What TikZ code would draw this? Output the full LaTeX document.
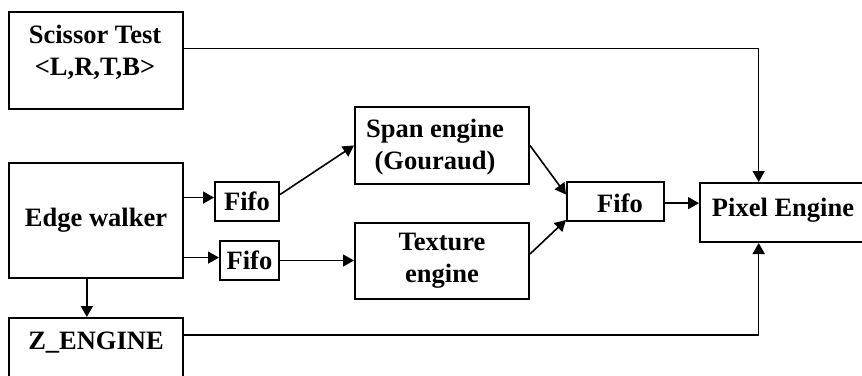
\documentclass[tikz,border=0pt]{standalone}
\usepackage{fontspec}
\setmainfont{Liberation Serif}
\usetikzlibrary{arrows.meta,calc}
\begin{document}
\begin{tikzpicture}[x=1pt,y=-1pt,
  box/.style={draw,line width=2pt,rectangle,inner sep=0pt,align=center},
  lbl/.style={inner sep=0pt,align=center},
  conn/.style={line width=1.6pt},
  arr/.style={conn,-{Triangle[length=11pt,width=12pt]}},
  every node/.style={font=\fontsize{26.5}{32}\selectfont\bfseries}]
\useasboundingbox (0,0) rectangle (862,375);
\clip (0,0) rectangle (862,375);
% boxes
\node[box,minimum width=174pt,minimum height=97pt] (scissor) at (96,60.5) {};
\node[lbl] (scissortxt) at (95,52) {Scissor Test\\<L,R,T,B>};
\node[box,minimum width=174pt,minimum height=115pt] (ew) at (96,220.5) {Edge walker};
\node[box,minimum width=174pt,minimum height=97pt] (z) at (96,366.5) {};
\node[lbl] (ztxt) at (96,343) {Z\_ENGINE};
\node[box,minimum width=64pt,minimum height=39pt] (fifo1) at (247,201.5) {Fifo};
\node[box,minimum width=59pt,minimum height=39pt] (fifo2) at (249.5,260.5) {Fifo};
\node[box,minimum width=174pt,minimum height=77pt] (span) at (442,145.5) {};
\node[lbl] (spantxt) at (435,147) {Span engine\\(Gouraud)};
\node[box,minimum width=174pt,minimum height=76pt] (tex) at (442,261) {Texture\\engine};
\node[box,minimum width=97pt,minimum height=39pt] (fifo3) at (615.5,201.5) {};
\node[lbl] (fifo3txt) at (620,203) {Fifo};
\node[box,minimum width=170pt,minimum height=59pt] (pixel) at (785,212.5) {};
\node[lbl] (pixeltxt) at (783,210) {Pixel Engine};
% connectors
\coordinate (s1) at ($(scissor.north east)!0.38!(scissor.south east)$);
\coordinate (p1) at ($(pixel.north west)!0.347!(pixel.north east)$);
\draw[arr] (s1) -| (p1);
\coordinate (z1) at ([yshift=-18pt]z.north east);
\coordinate (p2) at ($(pixel.south west)!0.347!(pixel.south east)$);
\draw[arr] (z1) -| (p2);
\coordinate (e1) at ($(ew.north east)!0.304!(ew.south east)$);
\draw[arr] (e1) -- (e1 -| fifo1.west);
\coordinate (e2) at ($(ew.north east)!0.817!(ew.south east)$);
\draw[arr] (e2) -- (e2 -| fifo2.west);
\coordinate (e3) at ($(ew.south west)!0.448!(ew.south east)$);
\draw[arr] (e3) -- (e3 |- z.north);
\coordinate (f1) at ($(fifo1.north east)!0.33!(fifo1.south east)$);
\draw[arr] (f1) -- (span.west);
\draw[arr] (fifo2.east) -- (fifo2.east -| tex.west);
\coordinate (f3a) at ($(fifo3.north west)!0.33!(fifo3.south west)$);
\draw[arr] (span.east) -- (f3a);
\coordinate (t1) at ($(tex.north east)!0.41!(tex.south east)$);
\coordinate (f3b) at ($(fifo3.north west)!0.95!(fifo3.south west)$);
\draw[arr] (t1) -- (f3b);
\coordinate (f3c) at ($(fifo3.north east)!0.54!(fifo3.south east)$);
\draw[arr] (f3c) -- (f3c -| pixel.west);
\end{tikzpicture}
\end{document}
